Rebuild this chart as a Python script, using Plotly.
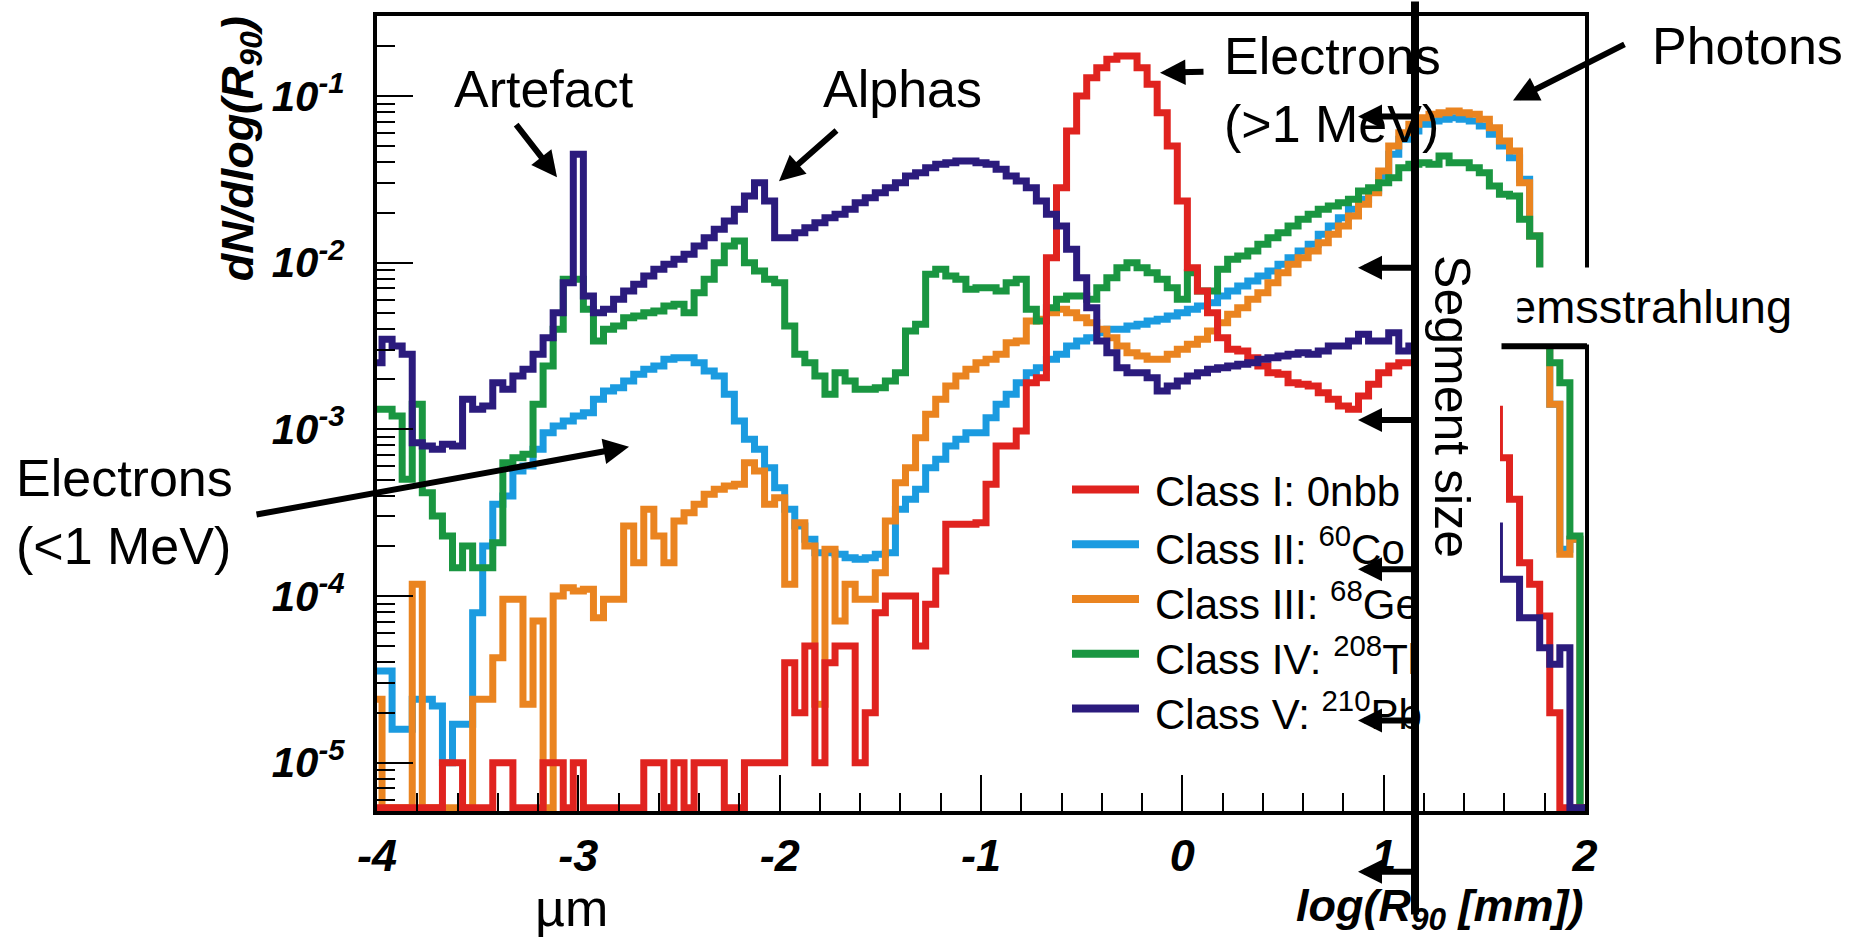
import math
import plotly.graph_objects as go

# ---------------- data (log10 of dN/dlog(R90); None = empty bin) ----------------
bin_centers = [round(-4 + 0.05 * k, 2) for k in range(121)]

class1_log10 = [  # Class I: 0nbb (red)
    None, None, None, None, None, None, None, -5.0, -5.0, None, None, None, -5.0, -5.0, None, None, None, -5.0, -5.0, None, -5.0,
    None, None, None, None, None, None, -5.0, -5.0, None, -5.0, None, -5.0, -5.0, -5.0, None, None, -5.0, -5.0, -5.0, -5.0,
    -4.40, -4.70, -4.30, -5.0, -4.40, -4.30, -4.30, -5.0, -4.70, -4.10, -4.00, -4.00, -4.00, -4.30, -4.05, -3.85, -3.57, -3.57, -3.57, -3.56,
    -3.33, -3.10, -3.10, -3.01, -2.72, -2.69, -1.97, -1.55, -1.21, -1.00, -0.89, -0.83, -0.78, -0.76, -0.76, -0.83, -0.93, -1.10, -1.30, -1.63,
    -2.03, -2.17, -2.30, -2.45, -2.52, -2.53, -2.57, -2.62, -2.66, -2.67, -2.72, -2.73, -2.74, -2.78, -2.82, -2.86, -2.88, -2.80, -2.73, -2.66,
    -2.62, -2.60, -2.60, -2.60, -2.62, -2.65, -2.68, -2.72, -2.77, -2.82, -2.88, -3.17, -3.42, -3.80, -3.93, -4.12, -4.70, None, None, None,
]
class2_log10 = [  # Class II: 60Co (blue)
    -4.45, -4.45, -4.80, -4.80, -4.62, -4.62, -4.66, -5.00, -4.77, -4.77, -4.10, -3.70, -3.45, -3.40, -3.25, -3.22, -3.12, -3.02, -2.98, -2.95, -2.92,
    -2.90, -2.82, -2.77, -2.75, -2.71, -2.67, -2.64, -2.62, -2.58, -2.57, -2.57, -2.60, -2.65, -2.68, -2.79, -2.95, -3.06, -3.12, -3.23, -3.35,
    -3.48, -3.58, -3.66, -3.74, -3.74, -3.75, -3.77, -3.78, -3.77, -3.75, -3.74, -3.48, -3.42, -3.36, -3.23, -3.18, -3.10, -3.06, -3.02, -3.02,
    -2.93, -2.85, -2.79, -2.72, -2.66, -2.63, -2.58, -2.55, -2.50, -2.47, -2.45, -2.42, -2.40, -2.40, -2.38, -2.37, -2.35, -2.34, -2.32, -2.30,
    -2.28, -2.26, -2.24, -2.20, -2.17, -2.14, -2.11, -2.08, -2.05, -2.01, -1.97, -1.93, -1.89, -1.83, -1.78, -1.73, -1.68, -1.62, -1.57, -1.48,
    -1.35, -1.26, -1.21, -1.17, -1.15, -1.14, -1.13, -1.14, -1.15, -1.18, -1.23, -1.30, -1.37, -1.50, -1.84, -2.30, -2.85, -3.72, -3.66, None,
]
class3_log10 = [  # Class III: 68Ge (orange)
    -4.62, None, None, None, -3.93, None, None, None, None, None, -4.62, -4.62, -4.37, -4.02, -4.02, -4.65, -4.15, None, -4.00, -3.95, -3.97,
    -3.96, -4.13, -4.02, -4.02, -3.58, -3.80, -3.48, -3.64, -3.80, -3.55, -3.50, -3.45, -3.39, -3.36, -3.34, -3.33, -3.20, -3.25, -3.45, -3.41,
    -3.93, -3.56, -3.70, -4.65, -3.72, -4.15, -3.93, -4.02, -4.02, -3.86, -3.55, -3.32, -3.23, -3.05, -2.91, -2.82, -2.74, -2.68, -2.64, -2.60,
    -2.58, -2.55, -2.48, -2.47, -2.35, -2.34, -2.30, -2.28, -2.30, -2.33, -2.36, -2.40, -2.45, -2.50, -2.54, -2.56, -2.58, -2.58, -2.55, -2.52,
    -2.49, -2.46, -2.41, -2.36, -2.31, -2.27, -2.22, -2.18, -2.12, -2.06, -2.01, -1.97, -1.93, -1.88, -1.83, -1.78, -1.72, -1.65, -1.58, -1.45,
    -1.30, -1.22, -1.17, -1.13, -1.11, -1.10, -1.09, -1.10, -1.11, -1.14, -1.19, -1.27, -1.33, -1.52, -1.84, -2.30, -2.85, -3.75, -3.66, None,
]
class4_log10 = [  # Class IV: 208Tl (green)
    -2.88, -2.88, -2.92, -3.30, -2.85, -3.38, -3.52, -3.64, -3.83, -3.70, -3.83, -3.83, -3.68, -3.20, -3.17, -3.15, -2.85, -2.62, -2.40, -2.10, -2.10,
    -2.28, -2.47, -2.40, -2.38, -2.33, -2.32, -2.30, -2.29, -2.26, -2.25, -2.30, -2.18, -2.10, -2.00, -1.90, -1.87, -2.00, -2.05, -2.10, -2.12,
    -2.38, -2.55, -2.60, -2.68, -2.79, -2.66, -2.71, -2.76, -2.76, -2.75, -2.71, -2.66, -2.41, -2.37, -2.07, -2.04, -2.08, -2.10, -2.16, -2.15,
    -2.15, -2.17, -2.12, -2.10, -2.28, -2.35, -2.27, -2.22, -2.20, -2.20, -2.22, -2.15, -2.09, -2.03, -2.00, -2.03, -2.06, -2.10, -2.15, -2.22,
    -2.06, -2.17, -2.17, -2.04, -1.98, -1.96, -1.93, -1.89, -1.85, -1.82, -1.78, -1.74, -1.71, -1.68, -1.66, -1.64, -1.62, -1.57, -1.55, -1.52,
    -1.49, -1.43, -1.41, -1.40, -1.41, -1.36, -1.40, -1.40, -1.43, -1.46, -1.54, -1.59, -1.60, -1.74, -1.84, -2.20, -2.60, -2.72, -3.64, None,
]
class5_log10 = [  # Class V: 210Pb (purple)
    -2.60, -2.46, -2.50, -2.55, -3.08, -3.10, -3.12, -3.09, -3.10, -2.82, -2.88, -2.86, -2.72, -2.76, -2.68, -2.64, -2.55, -2.45, -2.30, -2.12, -1.35,
    -2.20, -2.30, -2.28, -2.22, -2.17, -2.13, -2.08, -2.04, -2.01, -1.98, -1.95, -1.90, -1.85, -1.80, -1.75, -1.68, -1.60, -1.52, -1.63, -1.85,
    -1.85, -1.82, -1.79, -1.76, -1.73, -1.71, -1.68, -1.64, -1.61, -1.58, -1.55, -1.52, -1.48, -1.46, -1.43, -1.41, -1.40, -1.39, -1.39, -1.40,
    -1.41, -1.44, -1.48, -1.51, -1.55, -1.63, -1.71, -1.78, -1.92, -2.09, -2.27, -2.47, -2.54, -2.63, -2.66, -2.66, -2.69, -2.77, -2.74, -2.71,
    -2.68, -2.66, -2.64, -2.63, -2.62, -2.61, -2.60, -2.58, -2.57, -2.56, -2.55, -2.54, -2.55, -2.53, -2.50, -2.50, -2.47, -2.43, -2.47, -2.47,
    -2.42, -2.53, -2.50, -2.55, -2.62, -2.70, -2.80, -2.92, -3.08, -3.30, -3.58, -3.90, -3.90, -4.13, -4.13, -4.31, -4.41, -4.31, None, None,
]

series_names = ["Class I: 0nbb", "Class II: <sup>60</sup>Co", "Class III: <sup>68</sup>Ge",
                "Class IV: <sup>208</sup>Tl", "Class V: <sup>210</sup>Pb"]
series_colors = ["#e0231f", "#1b9be0", "#ea8420", "#1a9641", "#2b1b7d"]
series_data = [class1_log10, class2_log10, class3_log10, class4_log10, class5_log10]
draw_order = [1, 2, 3, 0, 4]

x_tick_vals = [-4, -3, -2, -1, 0, 1, 2]
x_tick_text = ["-4", "-3", "-2", "-1", "0", "1", "2"]
y_tick_vals = [1e-5, 1e-4, 1e-3, 1e-2, 1e-1]
y_tick_text = ["10<sup>-5</sup>", "10<sup>-4</sup>", "10<sup>-3</sup>", "10<sup>-2</sup>", "10<sup>-1</sup>"]

Y_LOG_RANGE = [-5.29, -0.52]
FLOOR_LOG10 = -5.27  # empty bins sit on the frame bottom, as in ROOT


def to_values(logs):
    return [10 ** (FLOOR_LOG10 if v is None else v) for v in logs]


for arr in series_data:
    assert len(arr) == len(bin_centers)

# ---------------- figure ----------------
W, H = 1861, 939
L, R, T, B = 377, 1585, 12, 811


def px(x):
    return (x - L) / (R - L)


def py(y):
    return (B - y) / (B - T)


fig = go.Figure()
for i in draw_order:
    fig.add_trace(go.Scatter(
        x=bin_centers, y=to_values(series_data[i]), mode="lines",
        line=dict(color=series_colors[i], width=7, shape="hvh"),
        name=series_names[i], showlegend=False, hoverinfo="skip"))

FONT = "Liberation Sans, Arial, sans-serif"
x_tick_font = dict(family=FONT, size=45, color="black", weight="bold", style="italic")
y_tick_font = dict(family=FONT, size=42, color="black", weight="bold", style="italic")
minor_y = [m * 10 ** e for e in range(-6, 0) for m in range(2, 10)
           if Y_LOG_RANGE[0] < math.log10(m * 10 ** e) < Y_LOG_RANGE[1]]
minor_x = [round(-4 + 0.2 * k, 1) for k in range(31) if (k % 5) != 0]

fig.update_xaxes(range=[-4, 2], tickmode="array", tickvals=x_tick_vals, ticktext=x_tick_text,
                 ticks="inside", ticklen=36, tickwidth=2, tickcolor="black",
                 showline=True, linewidth=4, linecolor="black", mirror=True,
                 showgrid=False, zeroline=False, tickfont=x_tick_font, ticklabelstandoff=2,
                 minor=dict(tickmode="array", tickvals=minor_x, ticks="inside", ticklen=18,
                            tickwidth=2, tickcolor="black", showgrid=False))
fig.update_yaxes(type="log", range=Y_LOG_RANGE, tickmode="array", tickvals=y_tick_vals,
                 ticktext=y_tick_text, ticks="inside", ticklen=36, tickwidth=2, tickcolor="black",
                 showline=True, linewidth=4, linecolor="black", mirror=True,
                 showgrid=False, zeroline=False, tickfont=y_tick_font, ticklabelstandoff=20,
                 minor=dict(tickmode="array", tickvals=minor_y, ticks="inside", ticklen=18,
                            tickwidth=2, tickcolor="black", showgrid=False))

ann_font = dict(family=FONT, size=52, color="black")
title_font = dict(family=FONT, size=45, color="black", weight="bold", style="italic")
leg_font = dict(family=FONT, size=42, color="black")

annotations = []
shapes = []


def text(x, y, t, font, xanchor="center", yanchor="middle", **kw):
    annotations.append(dict(x=px(x), y=py(y), xref="paper", yref="paper", text=t,
                            showarrow=False, xanchor=xanchor, yanchor=yanchor,
                            font=font, **kw))


def arrow(tx, ty, hx, hy, width=6, head=2, size=0.85):
    annotations.append(dict(x=px(hx), y=py(hy), xref="paper", yref="paper",
                            ax=tx - hx, ay=ty - hy, axref="pixel", ayref="pixel",
                            text="", showarrow=True, arrowhead=head, arrowsize=size,
                            arrowwidth=width, arrowcolor="black", standoff=0,
                            startstandoff=0))


# manual legend (long line samples as in the original)
for i in range(5):
    yy = 488 + 55 * i
    shapes.append(dict(type="line", xref="paper", yref="paper", x0=px(1072), x1=px(1139),
                       y0=py(yy), y1=py(yy), line=dict(color=series_colors[i], width=8),
                       layer="above"))
    text(1153, yy + 2, series_names[i], leg_font, xanchor="left")

# white cover to the right of the segment-size line
shapes.append(dict(type="rect", xref="paper", yref="paper", x0=px(1419), x1=px(1500),
                   y0=py(790), y1=py(265), fillcolor="white", line=dict(width=0),
                   layer="above"))

# axis titles
text(240, 146, "dN/dlog(R<sub>90</sub>)", title_font, textangle=-90)
text(1586, 878, "log(R<sub>90</sub> [mm])", title_font, xanchor="right", yanchor="top")

# labels
text(544, 85, "Artefact", ann_font)
arrow(515, 120, 557, 174)
text(902, 85, "Alphas", ann_font)
arrow(838, 126, 779, 178)
text(1222, 86, "Electrons<br>(&gt;1 MeV)", ann_font, xanchor="left", align="left")
arrow(1205, 68, 1160, 69)
text(1650, 42, "Photons", ann_font, xanchor="left")
arrow(1626, 40, 1513, 97)
text(14, 510, "Electrons<br>(&lt;1 MeV)", ann_font, xanchor="left", align="left")
arrow(255, 513, 629, 445)
text(571, 908, "µm", ann_font)

# Bremsstrahlung label, partly hidden
annotations.append(dict(x=px(1462), y=py(303), xref="paper", yref="paper",
                        text="Bremsstrahlung", showarrow=False, xanchor="left",
                        yanchor="middle", align="left", width=350, height=76,
                        bgcolor="white", borderpad=0,
                        font=dict(family=FONT, size=47, color="black")))
annotations.append(dict(x=px(1468), y=py(303), xref="paper", yref="paper", text=" ",
                        showarrow=False, xanchor="center", yanchor="middle",
                        width=98, height=78, bgcolor="white", borderpad=0,
                        font=dict(size=10)))
arrow(1500, 344, 1587, 344, width=6, head=0)

text(1452, 404, "Segment size", dict(family=FONT, size=50, color="black"), textangle=90)

# segment-size line and arrows
arrow(1415, 0, 1415, 915, width=8, head=0)
for yy in [113, 265, 418, 568, 720, 872]:
    arrow(1415, yy, 1358, yy, width=6, head=2, size=0.8)

fig.update_layout(width=W, height=H, autosize=False,
                  margin=dict(l=L, r=W - R, t=T, b=H - B, pad=0),
                  paper_bgcolor="white", plot_bgcolor="white",
                  showlegend=False, annotations=annotations, shapes=shapes)

fig.write_html("out.html")
